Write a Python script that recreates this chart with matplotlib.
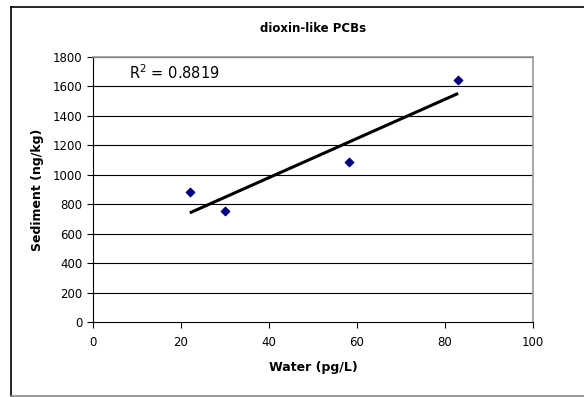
import numpy as np
import matplotlib.pyplot as plt
from matplotlib.lines import Line2D

plt.rcParams['font.family'] = ['DejaVu Sans']

water = [22.0, 30.0, 58.1, 83.0]
sediment = [880, 752, 1085, 1646]
r2_label = 0.8819
x_ticks = [0, 20, 40, 60, 80, 100]
y_ticks = [0, 200, 400, 600, 800, 1000, 1200, 1400, 1600, 1800]

W, H = 584, 397
fig = plt.figure(figsize=(W / 100, H / 100), dpi=100)
ax = fig.add_axes([93 / W, 1 - 322 / H, (533 - 93) / W, (322 - 57) / H])

for y in y_ticks[1:]:
    ax.axhline(y, color='black', lw=0.8, zorder=1)

# linear trend line
slope, icpt = np.polyfit(water, sediment, 1)
xs = np.array([min(water), max(water)])
ax.plot(xs, slope * xs + icpt, color='black', lw=2.2, solid_capstyle='butt', zorder=2)
ax.scatter(water, sediment, marker='D', s=18, color='#000080', zorder=3)

ax.text(0.082, 0.94, '$\\mathregular{R^2}$ = %.4f' % r2_label, transform=ax.transAxes,
        fontsize=10.5, va='center', ha='left')

ax.set_xlim(0, 100)
ax.set_ylim(0, 1800)
ax.set_xticks(x_ticks)
ax.set_yticks(y_ticks)
ax.tick_params(labelsize=8.5, length=4, width=0.8, direction='out', colors='black')
ax.tick_params(axis='x', pad=6)
for side in ['top', 'right']:
    ax.spines[side].set_color('#999999')
    ax.spines[side].set_linewidth(1.2)
for side in ['left', 'bottom']:
    ax.spines[side].set_color('black')
    ax.spines[side].set_linewidth(0.8)

ax.set_xlabel('Water (pg/L)', fontsize=9, fontweight='bold', labelpad=9)
ax.set_ylabel('Sediment (ng/kg)', fontsize=9, fontweight='bold', labelpad=6)
fig.text((93 + 533) / 2 / W, 1 - 28 / H, 'dioxin-like PCBs', fontsize=8.5, fontweight='bold',
         ha='center', va='center')

# outer chart border
fig.add_artist(Line2D([11 / W, 11 / W], [1 - 7 / H, 1 - 396 / H], color='black', lw=1.2))
fig.add_artist(Line2D([11 / W, 1], [1 - 7 / H, 1 - 7 / H], color='black', lw=1.2))
fig.add_artist(Line2D([11 / W, 1], [1 - 396 / H, 1 - 396 / H], color='#888888', lw=1.2))

plt.savefig('out.png', dpi=100)
